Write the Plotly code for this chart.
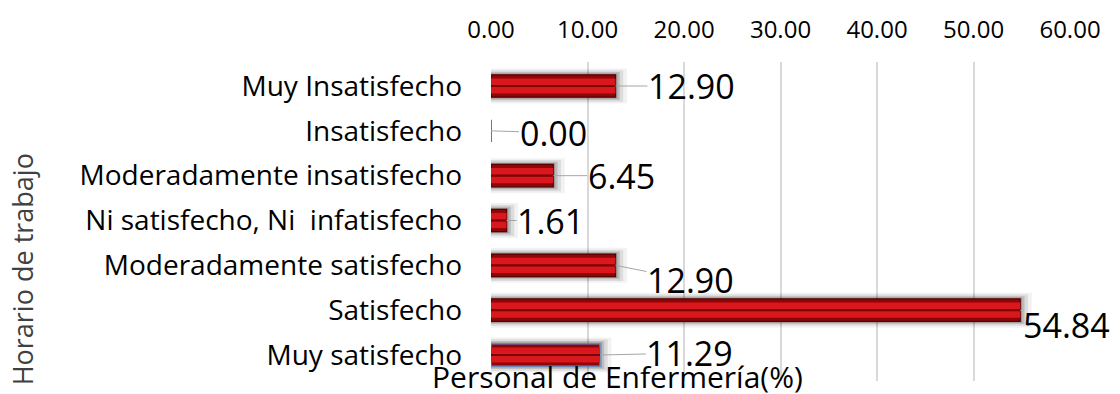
import plotly.graph_objects as go

# Satisfacción con el horario de trabajo (% del personal de enfermería)
categorias = [
    "Muy Insatisfecho",
    "Insatisfecho",
    "Moderadamente insatisfecho",
    "Ni satisfecho, Ni  infatisfecho",
    "Moderadamente satisfecho",
    "Satisfecho",
    "Muy satisfecho",
]
porcentajes = [12.90, 0.00, 6.45, 1.61, 12.90, 54.84, 11.29]
ticks_x = [0, 10, 20, 30, 40, 50, 60]

# desplazamiento de cada etiqueta respecto al extremo de su barra (px)
etiqueta_dx = [76, 62, 68, 44, 75, 46, 90]
etiqueta_dy = [0, 2, 0, 0, 15, 15, -2]

FONT = "'Open Sans', Lato, sans-serif"

fig = go.Figure()

# sombra difusa detrás de cada barra
for w, alpha, pad in [(0.78, 0.05, 1.2), (0.70, 0.09, 0.8), (0.62, 0.14, 0.45), (0.56, 0.2, 0.2)]:
    fig.add_trace(go.Bar(
        y=categorias,
        x=[v + pad if v > 0 else 0 for v in porcentajes],
        orientation="h", width=w,
        marker=dict(color=f"rgba(0,0,0,{alpha})", line=dict(width=0)),
        hoverinfo="skip", showlegend=False,
    ))

# cuerpo de la barra (bisel oscuro), banda clara y línea central
bordes = ["#5a0000"] * (len(categorias) - 1) + ["#5b8fd0"]
fig.add_trace(go.Bar(
    y=categorias, x=porcentajes, orientation="h", width=0.5,
    marker=dict(color="#8e0608", line=dict(color=bordes, width=1.2)),
    showlegend=False,
))
fig.add_trace(go.Bar(
    y=categorias, x=porcentajes, orientation="h", width=0.34,
    marker=dict(color="#d9171c", line=dict(width=0)),
    hoverinfo="skip", showlegend=False,
))
fig.add_trace(go.Bar(
    y=categorias, x=porcentajes, orientation="h", width=0.05,
    marker=dict(color="#7a0205", line=dict(width=0)),
    hoverinfo="skip", showlegend=False,
))

# etiquetas de valor con línea guía
for cat, val, dx, dy in zip(categorias, porcentajes, etiqueta_dx, etiqueta_dy):
    fig.add_annotation(
        x=val, y=cat, xref="x", yref="y",
        text=f"{val:.2f}", showarrow=True, arrowhead=0,
        arrowwidth=1, arrowcolor="#a6a6a6", ax=dx, ay=dy,
        font=dict(family=FONT, size=34, color="#000000"),
        borderpad=0,
    )

# títulos de los ejes
fig.add_annotation(
    text="Personal de Enfermería(%)", xref="paper", yref="paper",
    x=-0.105, y=0.014, xanchor="left", yanchor="middle", showarrow=False,
    font=dict(family=FONT, size=30, color="#000000"),
)
fig.add_annotation(
    text="Horario de trabajo", xref="paper", yref="paper",
    x=-0.81, y=0.35, xanchor="center", yanchor="middle", textangle=-90,
    showarrow=False,
    font=dict(family=FONT, size=27, color="#404040"),
)

fig.update_layout(
    width=1120, height=394,
    margin=dict(l=491, r=50, t=60, b=13),
    paper_bgcolor="white", plot_bgcolor="white",
    barmode="overlay", bargap=0.5,
    font=dict(family=FONT, color="#000000"),
    xaxis=dict(
        side="top", range=[0, 60], tickvals=ticks_x, tickformat=".2f",
        showgrid=True, gridcolor="#d9d9d9", gridwidth=1.5,
        zeroline=False, showline=False, ticks="",
        ticklabelstandoff=18,
        tickfont=dict(family=FONT, size=24, color="#000000"),
    ),
    yaxis=dict(
        categoryorder="array", categoryarray=categorias, autorange="reversed",
        showgrid=False, zeroline=False, showline=False, ticks="",
        ticklabelstandoff=28,
        tickfont=dict(family=FONT, size=28, color="#000000"),
    ),
)

fig.write_html("out.html")
